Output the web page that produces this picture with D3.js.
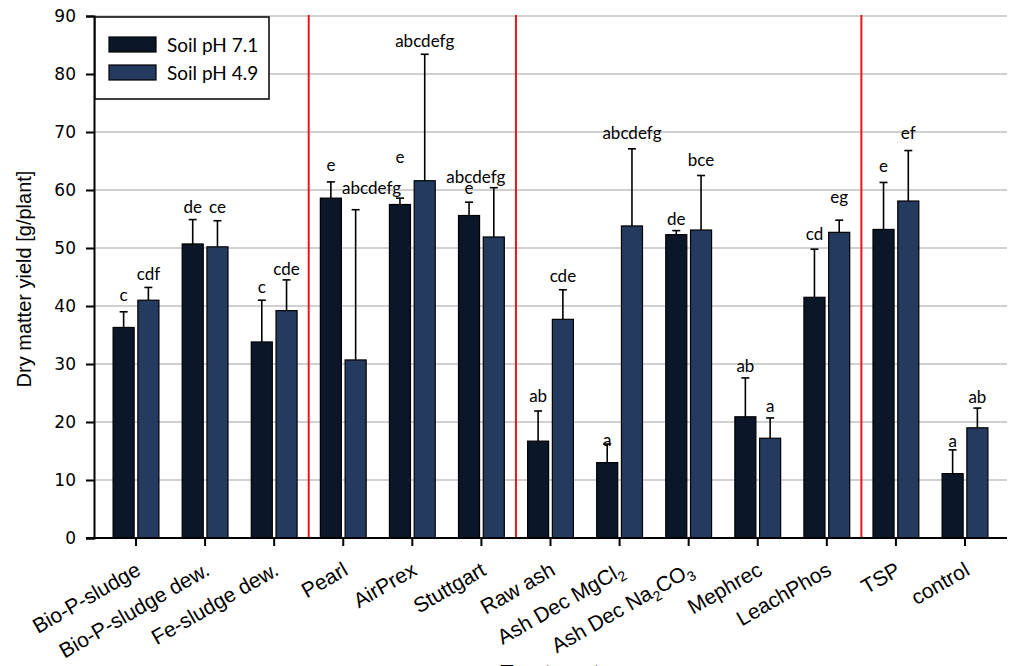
<!DOCTYPE html>
<html><head><meta charset="utf-8">
<script src="https://cdn.jsdelivr.net/npm/d3@7"></script>
<style>body{margin:0;background:#fff}svg{display:block}</style>
</head><body>
<svg id="chart" width="1024" height="666"></svg>
<script>
const categories = ["Bio-P-sludge","Bio-P-sludge dew.","Fe-sludge dew.","Pearl","AirPrex","Stuttgart","Raw ash","Ash Dec MgCl2","Ash Dec Na2CO3","Mephrec","LeachPhos","TSP","control"];
const seriesNames = ["Soil pH 7.1","Soil pH 4.9"];
const mean71 = [36.3,50.7,33.8,58.6,57.5,55.6,16.7,13.0,52.3,20.9,41.5,53.2,11.1];
const err71  = [39.0,54.9,41.0,61.4,58.6,57.9,21.9,16.2,53.0,27.6,49.8,61.3,15.2];
const mean49 = [41.0,50.2,39.2,30.7,61.6,51.9,37.7,53.8,53.1,17.2,52.7,58.1,19.0];
const err49  = [43.2,54.7,44.5,56.6,83.4,60.4,42.8,67.1,62.5,20.7,54.8,66.8,22.4];
const letters71 = ["c","de","c","e","e","e","ab","a","de","ab","cd","e","a"];
const letters49 = ["cdf","ce","cde","abcdefg","abcdefg","abcdefg","cde","abcdefg","bce","a","eg","ef","ab"];
const letterPos71 = [41.9,57.1,43.2,64.3,65.6,60.3,24.4,16.9,55.0,29.7,52.4,64.1,16.8];
const letterPos49 = [45.5,57.1,46.4,60.3,85.6,62.3,45.1,69.9,65.1,22.8,58.8,69.9,24.3];
const yTicks = [0,10,20,30,40,50,60,70,80,90];
const groupBreaksAfter = ["Fe-sludge dew.","Stuttgart","LeachPhos"];
const yTitle = "Dry matter yield [g/plant]";
const xTitle = "Treatment";

const colors = ["#0b1628","#243a5e"];
const svg = d3.select("#chart");
const L = 94, R = 1007, T = 16, B = 538;

const x = d3.scaleBand().domain(categories).range([L, R]).paddingInner(0).paddingOuter(0.108);
const xs = d3.scaleBand().domain(seriesNames).range([0, x.bandwidth()]).paddingInner(0.15).paddingOuter(0.47);
const y = d3.scaleLinear().domain([0, 90]).range([B, T]);

// grid
svg.append("g").selectAll("line").data(yTicks.filter(d => d > 0)).join("line")
  .attr("x1", L).attr("x2", R).attr("y1", d => y(d)).attr("y2", d => y(d))
  .attr("stroke", "#c0c0c0").attr("stroke-width", 1.5);

// red separators
svg.append("g").selectAll("line").data(groupBreaksAfter).join("line")
  .attr("x1", d => x(d) + x.step()).attr("x2", d => x(d) + x.step())
  .attr("y1", y(90) - 1).attr("y2", B)
  .attr("stroke", "#e8161b").attr("stroke-width", 2);

const rows = categories.map((c, i) => ({c, i}));
const series = [
  {name: seriesNames[0], mean: mean71, err: err71, lab: letters71, pos: letterPos71, col: colors[0]},
  {name: seriesNames[1], mean: mean49, err: err49, lab: letters49, pos: letterPos49, col: colors[1]}
];
const nudge = {"Pearl|1": 16, "Stuttgart|1": -18};

series.forEach((s, si) => {
  const g = svg.append("g");
  const cx = d => x(d.c) + xs(s.name) + xs.bandwidth() / 2;
  g.selectAll(".e").data(rows).join("line")
    .attr("x1", cx).attr("x2", cx)
    .attr("y1", d => y(s.mean[d.i])).attr("y2", d => y(s.err[d.i]))
    .attr("stroke", "#000").attr("stroke-width", 1.6);
  g.selectAll(".cap").data(rows).join("line")
    .attr("x1", d => cx(d) - 4).attr("x2", d => cx(d) + 4)
    .attr("y1", d => y(s.err[d.i])).attr("y2", d => y(s.err[d.i]))
    .attr("stroke", "#000").attr("stroke-width", 1.6);
  g.selectAll("rect").data(rows).join("rect")
    .attr("x", d => x(d.c) + xs(s.name)).attr("width", xs.bandwidth())
    .attr("y", d => y(s.mean[d.i])).attr("height", d => B - y(s.mean[d.i]))
    .attr("fill", s.col).attr("stroke", "#000").attr("stroke-width", 1.2);
  g.selectAll("text").data(rows).join("text")
    .attr("x", d => cx(d) + (nudge[d.c + "|" + si] || 0))
    .attr("y", d => y(s.pos[d.i])).attr("dy", "0.35em")
    .attr("text-anchor", "middle")
    .attr("font-family", "Lato, 'Open Sans', sans-serif").attr("font-size", 17)
    .attr("fill", "#000")
    .text(d => s.lab[d.i]);
});

// y axis
const yAxis = svg.append("g").attr("transform", `translate(${L},0)`)
  .call(d3.axisLeft(y).tickValues(yTicks).tickSize(8).tickPadding(10));
yAxis.select(".domain").attr("stroke", "#000").attr("stroke-width", 2);
yAxis.selectAll(".tick line").attr("stroke", "#000").attr("stroke-width", 2);
yAxis.selectAll(".tick text").attr("font-family", "'DejaVu Sans', sans-serif").attr("font-size", 17).attr("fill", "#000");

// x axis
const xAxis = svg.append("g").attr("transform", `translate(0,${B})`)
  .call(d3.axisBottom(x).tickSize(8).tickFormat(""));
xAxis.select(".domain").attr("stroke", "#000").attr("stroke-width", 2).attr("d", `M${L - 8},0H${R}`);
xAxis.selectAll(".tick line").attr("stroke", "#000").attr("stroke-width", 2);

const xl = svg.append("g").selectAll("text").data(categories).join("text")
  .attr("transform", d => `translate(${x(d) + x.bandwidth() / 2 + 6},${B + 36}) rotate(-30)`)
  .attr("text-anchor", "end")
  .attr("font-family", "'Liberation Sans', Arial, sans-serif").attr("font-size", 21).attr("fill", "#000");
xl.each(function(d) {
  const t = d3.select(this);
  const m = d.match(/^(.*?)(MgCl|Na)(2)(CO)?(3)?$/);
  if (!m) { t.text(d); return; }
  t.append("tspan").text(m[1] + m[2]);
  t.append("tspan").attr("font-size", 14).attr("dy", 5).text(m[3]);
  if (m[4]) {
    t.append("tspan").attr("dy", -5).text(m[4]);
    t.append("tspan").attr("font-size", 14).attr("dy", 5).text(m[5]);
  }
});

// axis titles
svg.append("text").attr("transform", `translate(31,${(T + B) / 2 + 2}) rotate(-90)`)
  .attr("text-anchor", "middle").attr("font-family", "'Liberation Sans', Arial, sans-serif")
  .attr("font-size", 20).attr("fill", "#000").text(yTitle);
svg.append("text").attr("x", 550).attr("y", 680).attr("text-anchor", "middle")
  .attr("font-family", "'Liberation Sans', Arial, sans-serif").attr("font-size", 22).attr("fill", "#000").text(xTitle);

// legend
const lg = svg.append("g");
lg.append("rect").attr("x", 95).attr("y", 17).attr("width", 174).attr("height", 82)
  .attr("fill", "#fff").attr("stroke", "#000").attr("stroke-width", 1.5);
seriesNames.forEach((n, i) => {
  lg.append("rect").attr("x", 109).attr("y", 37 + i * 28).attr("width", 47).attr("height", 15)
    .attr("fill", colors[i]).attr("stroke", "#000").attr("stroke-width", 1.2);
  lg.append("text").attr("x", 167).attr("y", 45 + i * 28).attr("dy", "0.35em")
    .attr("font-family", "Lato, 'Open Sans', sans-serif").attr("font-size", 19).attr("fill", "#000").text(n);
});
</script>
</body></html>
